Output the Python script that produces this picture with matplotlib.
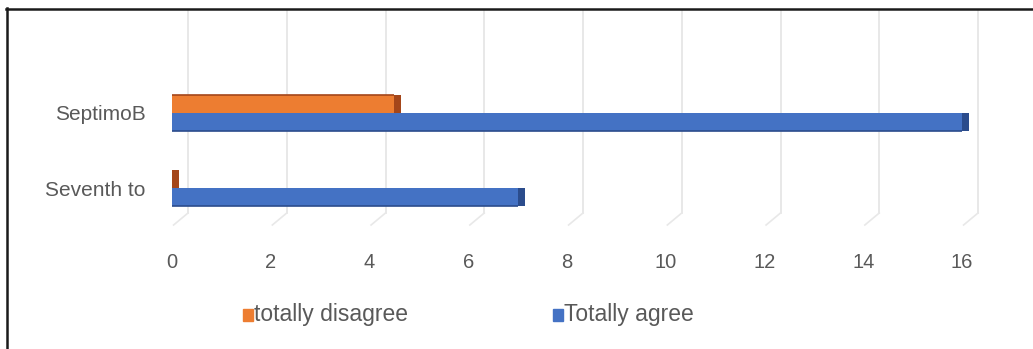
import matplotlib
matplotlib.use('Agg')
import matplotlib.pyplot as plt
from matplotlib.lines import Line2D
from matplotlib.patches import Rectangle

# --- data ---
categories = ['Seventh to', 'SeptimoB']
series_names = ['totally disagree', 'Totally agree']
disagree = [0, 4.5]
agree = [7, 16]
xticks = [0, 2, 4, 6, 8, 10, 12, 14, 16]

W, H = 1033, 349
fig = plt.figure(figsize=(W / 100, H / 100), dpi=100)
plt.rcParams['font.family'] = ['Liberation Sans', 'DejaVu Sans']

# axes placed in pixel terms: x 172..962, y 10..225 (from top)
x0, x1, ytop, ybot = 172, 962, 10, 225
ax = fig.add_axes([x0 / W, (H - ybot) / H, (x1 - x0) / W, (ybot - ytop) / H])
ax.set_xlim(0, 16)
px_per_unit_y = 75.0
ax.set_ylim(-(ybot - 188) / px_per_unit_y, 1 + (113 - ytop) / px_per_unit_y)

grey_txt = '#595959'
orange, orange_dk = '#ED7D31', '#A4461A'
blue, blue_dk = '#4472C4', '#2B4C8C'

# back wall gridlines with slanted floor segments (3D look)
px_per_unit_x = (x1 - x0) / 16
depth = 16 / px_per_unit_x
floor_back = (ybot - 213) / (ybot - ytop)
tr = ax.get_xaxis_transform()
for t in xticks:
    ax.plot([t + depth, t + depth], [floor_back, 1], color='#e4e4e4', lw=1.2,
            transform=tr, zorder=1, clip_on=False)
    ax.plot([t + depth, t + 0.1 * depth], [floor_back, 0], color='#e8e8e8',
            lw=1.2, transform=tr, zorder=1, clip_on=False)

bh = 0.235
cap = 7 / px_per_unit_x
for i, cat in enumerate(categories):
    # orange (upper) bar
    yo = i + bh / 2
    ax.barh(yo, disagree[i], height=bh, left=0, color=orange, zorder=3)
    ax.barh(yo, cap, height=bh, left=disagree[i], color=orange_dk, zorder=3,
            clip_on=False)
    ax.plot([0, disagree[i]], [yo + bh / 2, yo + bh / 2], color=orange_dk,
            lw=1.2, zorder=4, solid_capstyle='butt')
    # blue (lower) bar
    yb = i - bh / 2
    ax.barh(yb, agree[i], height=bh, left=0, color=blue, zorder=3)
    ax.barh(yb, cap, height=bh, left=agree[i], color=blue_dk, zorder=3,
            clip_on=False)
    ax.plot([0, agree[i]], [yb - bh / 2, yb - bh / 2], color=blue_dk,
            lw=1.2, zorder=4, solid_capstyle='butt')

ax.set_yticks(range(len(categories)))
ax.set_yticklabels(categories, fontsize=15, color=grey_txt)
ax.set_xticks(xticks)
ax.set_xticklabels([str(t) for t in xticks], fontsize=14.5, color=grey_txt)
ax.tick_params(axis='y', length=0, pad=19)
ax.tick_params(axis='x', length=0, pad=20)
for s in ax.spines.values():
    s.set_visible(False)
ax.patch.set_alpha(0)

# legend drawn by hand
leg_y = H - 314
for name, col, xs in [(series_names[0], orange, 243), (series_names[1], blue, 553)]:
    fig.add_artist(Rectangle((xs / W, (leg_y - 7) / H), 10 / W, 12 / H,
                             transform=fig.transFigure, color=col))
    fig.text((xs + 11) / W, leg_y / H, name, fontsize=16.5, color=grey_txt,
             va='center', ha='left')

# partial frame (top and left) from the screenshot
fig.add_artist(Line2D([6 / W, 1], [(H - 9) / H, (H - 9) / H], color='#1a1a1a',
                      lw=1.8, transform=fig.transFigure))
fig.add_artist(Line2D([7 / W, 7 / W], [0, (H - 8) / H], color='#1a1a1a',
                      lw=1.8, transform=fig.transFigure))

fig.savefig('out.png', dpi=100)
